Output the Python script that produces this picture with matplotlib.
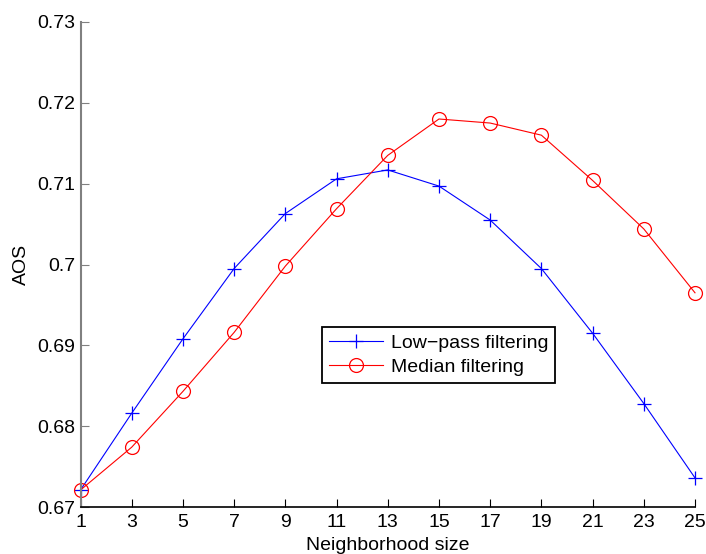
import matplotlib
matplotlib.use('Agg')
import matplotlib.pyplot as plt

plt.rcParams['font.family'] = ['Liberation Sans', 'DejaVu Sans']

sizes = [1, 3, 5, 7, 9, 11, 13, 15, 17, 19, 21, 23, 25]
lowpass = [0.6721, 0.6816, 0.6908, 0.6995, 0.7063, 0.7106, 0.7117,
           0.7097, 0.7055, 0.6995, 0.6915, 0.6828, 0.6736]
median = [0.6721, 0.6774, 0.6843, 0.6916, 0.6998, 0.7069, 0.7135,
          0.7180, 0.7175, 0.7160, 0.7104, 0.7044, 0.6965]
yticks = [0.67, 0.68, 0.69, 0.7, 0.71, 0.72, 0.73]
ytick_labels = ['0.67', '0.68', '0.69', '0.7', '0.71', '0.72', '0.73']

fig = plt.figure(figsize=(7.06, 5.54), dpi=100)
ax = fig.add_axes([80.5 / 706, (554 - 507) / 554, 614.5 / 706, 485 / 554])

ax.plot(sizes, lowpass, color='blue', lw=0.8, marker='+', ms=10, mew=0.9,
        clip_on=False, label='Low\u2212pass filtering')
ax.plot(sizes, median, color='red', lw=0.8, marker='o', ms=10, mew=0.9,
        mfc='none', clip_on=False, label='Median filtering')

ax.set_xlim(1, 25)
ax.set_ylim(0.67, 0.73)
ax.set_xticks(sizes)
ax.set_yticks(yticks)
ax.set_yticklabels(ytick_labels)
ax.tick_params(direction='in', length=6, labelsize=14, pad=5)
ax.tick_params(axis='y', color='#808080', pad=4)

ax.spines['top'].set_visible(False)
ax.spines['right'].set_visible(False)
ax.spines['left'].set_color('#808080')
ax.spines['left'].set_linewidth(1.5)
ax.spines['bottom'].set_linewidth(1.2)

ax.set_xlabel('Neighborhood size', fontsize=14, labelpad=4)
ax.set_ylabel('AOS', fontsize=14, labelpad=5)

leg = ax.legend(loc='lower left', bbox_to_anchor=(0.393, 0.256), fontsize=14,
                fancybox=False, edgecolor='black', framealpha=1,
                handlelength=2.8, borderpad=0.35, labelspacing=0.35,
                handletextpad=0.4, borderaxespad=0)
leg.get_frame().set_linewidth(1.3)

fig.savefig('out.png', dpi=100)
